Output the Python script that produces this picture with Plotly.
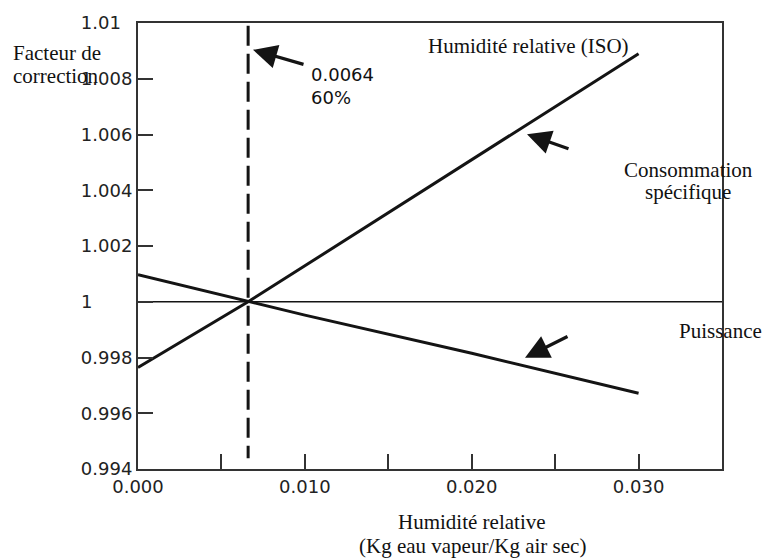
import plotly.graph_objects as go

# ---- data ----
humidity = [0.0, 0.0066, 0.010, 0.020, 0.030]
conso_specifique = [0.99764, 1.0, 1.00129, 1.00510, 1.00890]
puissance = [1.00097, 1.0, 0.99952, 0.99815, 0.99672]

ref_x = [0.0, 0.035]
ref_y = [1.0, 1.0]

iso_x = [0.0066, 0.0066]
iso_y = [1.0099, 0.99439]

x_tickvals = [0.0, 0.005, 0.010, 0.015, 0.020, 0.025, 0.030]
x_ticktext = ["0.000", "", "0.010", "", "0.020", "", "0.030"]
y_tickvals = [0.994, 0.996, 0.998, 1.0, 1.002, 1.004, 1.006, 1.008, 1.010]
NB = "\u00a0"
y_ticktext = ["0.994", "0.996", "0.998", "1" + NB * 7, "1.002", "1.004",
              "1.006", "1.008", "1.01" + NB * 2]

W, H = 763, 560
L, R, T, B = 138, 41, 20, 91
PW, PH = W - L - R, H - T - B


def px(xp):
    return (xp - L) / PW


def py(yp):
    return (H - B - yp) / PH


INK = "#141414"
SERIF = "Liberation Serif"
SANS = "DejaVu Sans"

fig = go.Figure()
fig.add_trace(go.Scatter(x=ref_x, y=ref_y, mode="lines",
                         line=dict(color=INK, width=1.5), showlegend=False,
                         hoverinfo="skip"))
fig.add_trace(go.Scatter(x=iso_x, y=iso_y, mode="lines",
                         line=dict(color=INK, width=3, dash="20px,8px"),
                         showlegend=False, hoverinfo="skip"))
fig.add_trace(go.Scatter(x=humidity, y=conso_specifique, mode="lines",
                         name="Consommation spécifique",
                         line=dict(color=INK, width=3), showlegend=False))
fig.add_trace(go.Scatter(x=humidity, y=puissance, mode="lines",
                         name="Puissance",
                         line=dict(color=INK, width=3), showlegend=False))

ann = []


def text(t, xp, yp, size=21, font=SERIF, anchor="left"):
    ann.append(dict(text=t, xref="paper", yref="paper", x=px(xp), y=py(yp),
                    xanchor=anchor, yanchor="middle", showarrow=False,
                    font=dict(family=font, size=size, color="#111")))


text("Facteur de", 11, 50)
text("correction", 11, 73.5)
text("Humidité relative (ISO)", 528, 43.5, anchor="center")
text("Consommation", 688, 168, anchor="center")
text("spécifique", 688, 190.5, anchor="center")
text("Puissance", 677, 330.5)
text("Humidité relative", 472, 522.5, anchor="center")
text("(Kg eau vapeur/Kg air sec)", 472, 546.5, anchor="center")
text("0.0064", 309, 72, size=18, font=SANS)
text("60%", 309, 94.5, size=18, font=SANS)


def arrow(hx, hy, tx, ty):
    ann.append(dict(text="", xref="paper", yref="paper", x=px(hx), y=py(hy),
                    ax=tx - hx, ay=ty - hy, axref="pixel", ayref="pixel",
                    showarrow=True, arrowhead=2, arrowsize=1.5, arrowwidth=3.2,
                    arrowcolor=INK, standoff=0, startstandoff=0))


arrow(253, 47, 305, 62)
arrow(527, 132, 570, 147)
arrow(525, 357, 569, 335)

fig.update_layout(
    width=W, height=H,
    margin=dict(l=L, r=R, t=T, b=B),
    paper_bgcolor="white", plot_bgcolor="white",
    annotations=ann,
    showlegend=False,
)
fig.update_xaxes(range=[0, 0.035], tickvals=x_tickvals, ticktext=x_ticktext,
                 ticks="inside", ticklen=15, tickwidth=2, tickcolor="#333",
                 showline=True, linecolor="#333", linewidth=2, mirror=True,
                 showgrid=False, zeroline=False,
                 tickfont=dict(family=SANS, size=18, color="#222"))
fig.update_yaxes(range=[0.994, 1.010], tickvals=y_tickvals, ticktext=y_ticktext,
                 ticks="inside", ticklen=15, tickwidth=2, tickcolor="#333",
                 showline=True, linecolor="#333", linewidth=2, mirror=True,
                 showgrid=False, zeroline=False,
                 tickfont=dict(family=SANS, size=18, color="#222"))

fig.write_html("out.html")
